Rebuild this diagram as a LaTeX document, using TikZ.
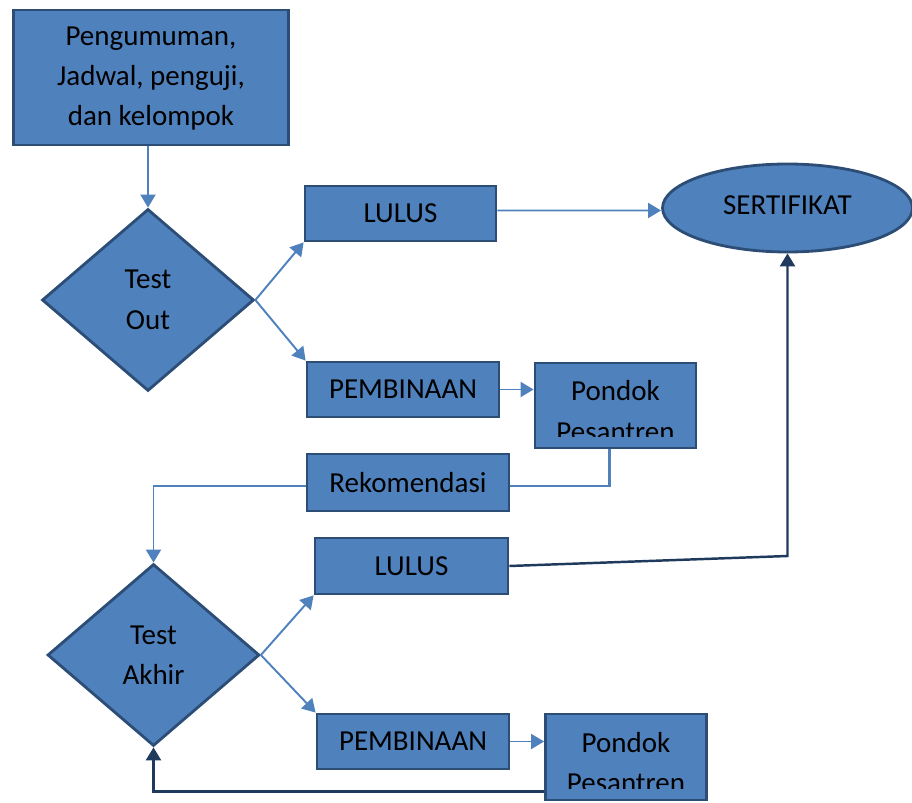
\documentclass[tikz,border=0pt]{standalone}
\usepackage{fontspec}
\setmainfont{Carlito}
\usetikzlibrary{arrows.meta, shapes.geometric}
\definecolor{boxblue}{HTML}{4F81BD}
\definecolor{boxedge}{HTML}{2C4D75}
\definecolor{darkline}{HTML}{203A5E}
\newcommand{\flowfont}{\fontsize{16.5}{23}\selectfont}

\begin{document}
\begin{tikzpicture}[x=0.02cm, y=-0.02cm,
  procbox/.style={rectangle, draw=boxedge, fill=boxblue, line width=1.6pt,
                  font=\flowfont, align=center, inner sep=2pt},
  decision/.style={diamond, draw=boxedge, fill=boxblue, line width=1.6pt,
                   font=\flowfont, align=center, inner sep=1pt,
                   minimum width=4.24cm, minimum height=3.64cm},
  goal/.style={ellipse, draw=boxedge, fill=boxblue, line width=1.6pt,
               font=\flowfont, align=center, minimum width=5.0cm, minimum height=1.76cm},
  pondok/.style={procbox, minimum width=3.22cm, minimum height=1.7cm,
                 path picture={
                   \clip (path picture bounding box.north west)
                     rectangle ([yshift=0.22cm]path picture bounding box.south east);
                   \node[font=\flowfont, align=center, draw=none, fill=none]
                     at ([yshift=-0.11cm]path picture bounding box.center) {Pondok\\Pesantren};
                 }},
  ioarr/.style={-{Triangle[length=0.26cm, width=0.3cm]}, line width=1.1pt, boxblue},
  backarr/.style={-{Triangle[length=0.26cm, width=0.3cm]}, line width=1.4pt, darkline},
  plainln/.style={line width=1.2pt, boxblue},
]
\useasboundingbox (0,0) rectangle (912,803);

% nodes
\node[procbox, minimum width=5.5cm, minimum height=2.7cm] (info) at (151,77.5)
  {\raisebox{-0.1cm}{\begin{tabular}{@{}c@{}}Pengumuman,\\Jadwal, penguji,\\dan kelompok\end{tabular}}};
\node[decision] (tout) at (148,300) {Test\\Out};
\node[procbox, minimum width=3.82cm, minimum height=1.1cm] (lulus1) at (400.5,213.5) {LULUS};
\node[procbox, minimum width=3.84cm, minimum height=1.1cm] (pemb1) at (403,389.5) {PEMBINAAN};
\node[pondok] (pondok1) at (615.5,405.5) {};
\node[goal] (sert) at (787.5,208) {\raisebox{0.1cm}{SERTIFIKAT}};
\node[procbox, minimum width=4.04cm, minimum height=1.14cm] (rekom) at (408,482.5) {Rekomendasi};
\node[decision] (takhir) at (153.5,655) {Test\\Akhir};
\node[procbox, minimum width=3.86cm, minimum height=1.12cm] (lulus2) at (411.5,566) {LULUS};
\node[procbox, minimum width=3.84cm, minimum height=1.1cm] (pemb2) at (413,741.5) {PEMBINAAN};
\node[pondok, minimum height=1.72cm] (pondok2) at (626,757) {};

% connectors
\draw[ioarr] (tout.north |- info.south) -- (tout.north);
\draw[ioarr] (tout.east) -- (lulus1.south west);
\draw[ioarr] (tout.east) -- (pemb1.north west);
\draw[ioarr] ([yshift=0.06cm]lulus1.east) -- (sert.west |- 0,210.5);
\draw[ioarr] (pemb1.east) -- (pondok1.west |- pemb1.east);
\draw[plainln] ([xshift=-0.12cm]pondok1.south) |- ([yshift=-0.07cm]rekom.east);
\draw[ioarr] ([yshift=-0.07cm]rekom.west) -| (takhir.north);
\draw[ioarr] (takhir.east) -- (lulus2.south west);
\draw[ioarr] (takhir.east) -- (pemb2.north west);
\draw[ioarr] (pemb2.east) -- (pondok2.west |- pemb2.east);
\draw[backarr] (lulus2.east) -- (sert.south |- 0,556) -- (sert.south);
\draw[backarr] ([yshift=0.2cm]pondok2.south west) -| (takhir.south);
\end{tikzpicture}
\end{document}
